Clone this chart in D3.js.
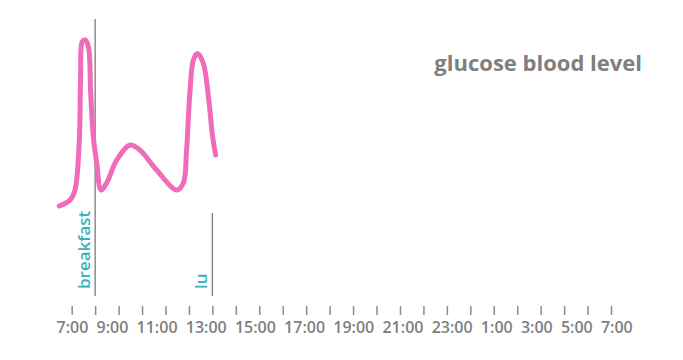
<!DOCTYPE html>
<html>
<head>
<meta charset="utf-8">
<script src="https://cdn.jsdelivr.net/npm/d3@7"></script>
<style>
  body { margin: 0; background: #fff; }
  text { font-family: "Open Sans", sans-serif; }
</style>
</head>
<body>
<script>
var width = 683, height = 360;

// glucose curve: hour of day (decimal) -> level (arbitrary units)
var hours  = [6.47, 6.93, 7.14, 7.32, 7.38, 7.45, 7.57, 7.71, 7.81, 7.92, 8.07, 8.25, 8.49, 8.92, 9.49, 9.91, 10.62, 11.48, 11.76, 11.90, 12.04, 12.19, 12.36, 12.61, 12.83, 13.01, 13.14];
var levels = [12, 15, 20, 43.5, 76.7, 94.2, 95, 91.7, 68.5, 46.7, 33.3, 20, 23.5, 35, 42.5, 40, 30, 20, 23.5, 40, 68.5, 85, 88.3, 83.5, 66.7, 46.7, 37.5];

// meals
var mealNames = ["breakfast", "lu"];
var mealHours = [8, 13];

// axis: hourly ticks from 7:00, labels every two hours
var tickHours = d3.range(7, 31);
var tickLabels = ["7:00", "9:00", "11:00", "13:00", "15:00", "17:00", "19:00", "21:00", "23:00", "1:00", "3:00", "5:00", "7:00"];

var title = "glucose blood level";

var pink = "#f06bb8", teal = "#3ab0b8", grey = "#7f7f7f";

var svg = d3.select("body").append("svg")
    .attr("width", width)
    .attr("height", height);

// setup x and y
var xScale = d3.scaleLinear().domain([7, 30]).range([71.7, 611]);
var yScale = d3.scaleLinear().domain([0, 100]).range([230, 30]);

// ticks
svg.append("g")
    .attr("transform", "translate(0,315)")
    .call(d3.axisTop(xScale).tickValues(tickHours).tickSize(9).tickFormat(""))
    .call(function(g) {
      g.select(".domain").remove();
      g.selectAll("line").attr("stroke", "#8c8c8c").attr("stroke-width", 1.5);
    });

// labels flow along the axis, one after the other
var labelG = svg.append("g").attr("class", "labels");
var cursor = 56.5;
tickLabels.forEach(function(d) {
  var t = labelG.append("text")
      .attr("y", 333)
      .attr("fill", grey)
      .style("font-size", "16px")
      .style("font-weight", 600)
      .text(d);
  t.attr("x", cursor);
  cursor += t.node().getComputedTextLength() + 8.2;
});

// meal markers
var mealTop = [19, 213];
mealNames.forEach(function(name, i) {
  var x = xScale(mealHours[i]);
  svg.append("line")
      .attr("x1", x).attr("x2", x)
      .attr("y1", mealTop[i]).attr("y2", 296)
      .attr("stroke", "#7a7a7a")
      .attr("stroke-width", 1.3);
  svg.append("text")
      .attr("transform", "translate(" + (x - 5) + ",289) rotate(-90)")
      .attr("fill", teal)
      .style("font-size", "17px")
      .style("font-weight", 600)
      .text(name);
});

// glucose curve
var line = d3.line()
    .x(function(d, i) { return xScale(hours[i]); })
    .y(function(d) { return yScale(d); })
    .curve(d3.curveCatmullRom.alpha(0.5));

svg.append("path")
    .datum(levels)
    .attr("d", line)
    .attr("fill", "none")
    .attr("stroke", pink)
    .attr("stroke-width", 5)
    .attr("stroke-linecap", "round")
    .attr("stroke-linejoin", "round");

// title
svg.append("text")
    .attr("x", 642)
    .attr("y", 70.5)
    .attr("text-anchor", "end")
    .attr("fill", grey)
    .style("font-size", "22px")
    .style("font-weight", 700)
    .text(title);
</script>
</body>
</html>
